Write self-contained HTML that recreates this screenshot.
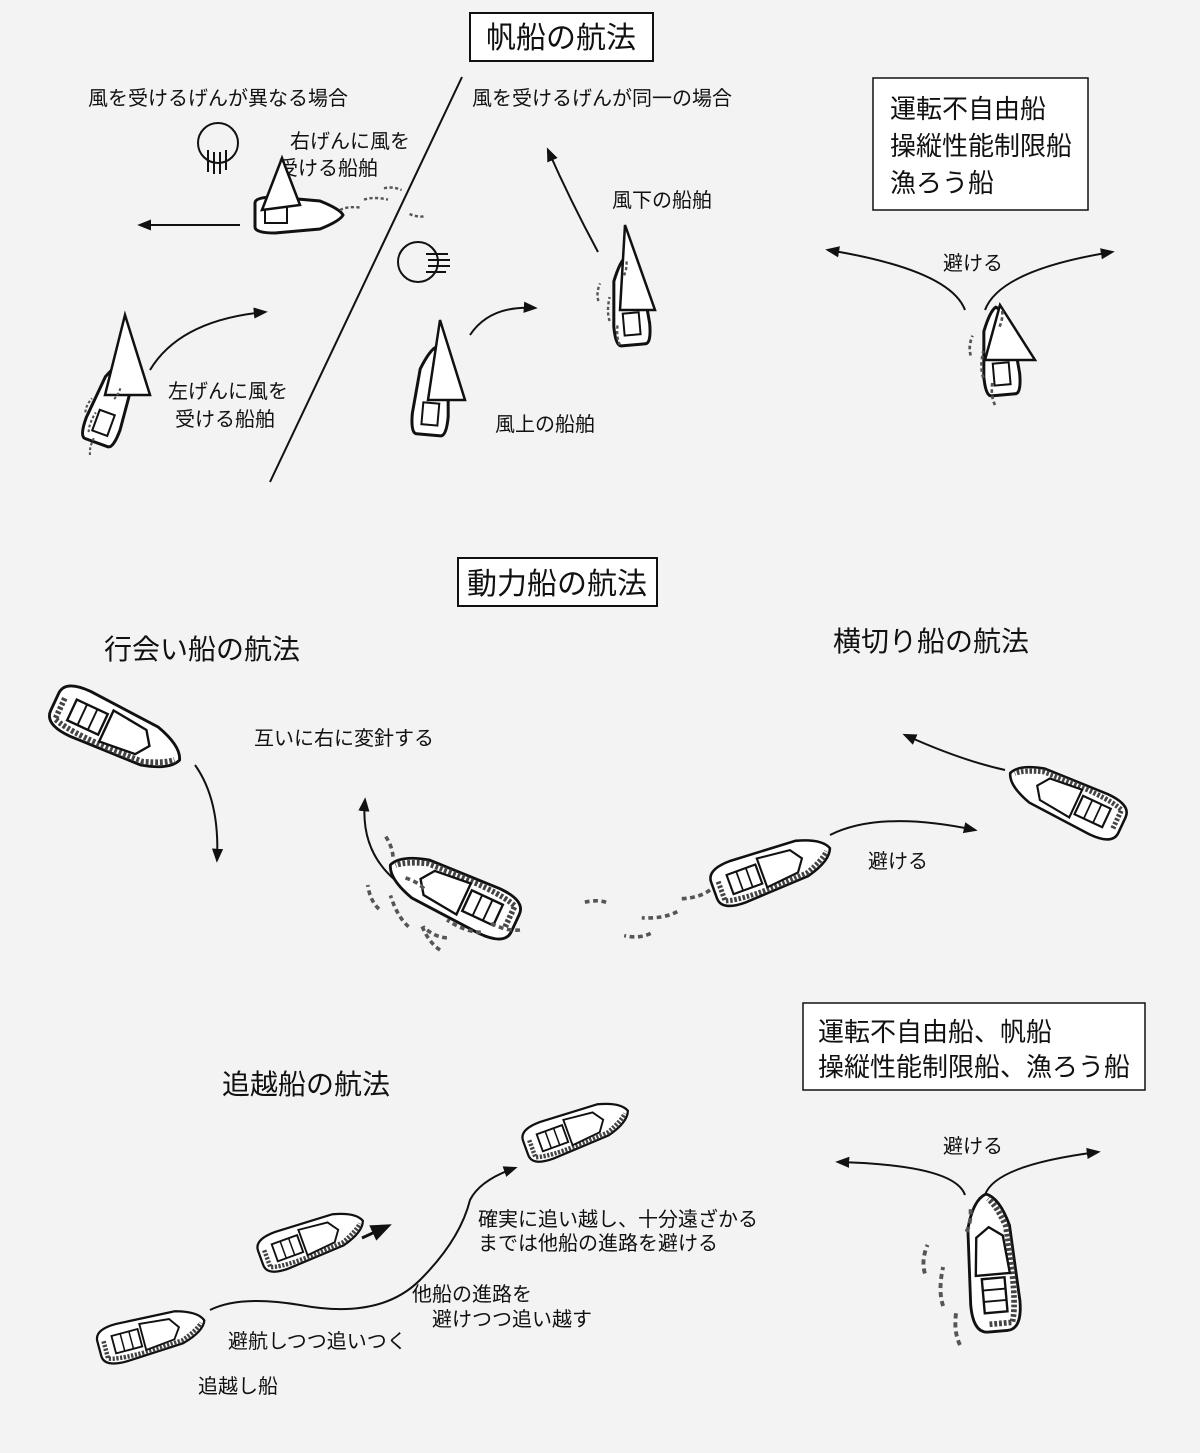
<!DOCTYPE html>
<html><head><meta charset="utf-8"><style>
html,body{margin:0;padding:0;background:#f3f3f3;}
svg{display:block}
text{font-family:"Liberation Sans","Noto Sans CJK JP",sans-serif;fill:#111}
</style></head><body>
<svg width="1200" height="1453" viewBox="0 0 1200 1453" xmlns="http://www.w3.org/2000/svg">
<defs>
<marker id="ah" viewBox="0 0 10 10" refX="8" refY="5" markerWidth="7" markerHeight="7" orient="auto-start-reverse"><path d="M0,1 L10,5 L0,9 Z" fill="#111"/></marker>
<g id="mb">
 <path d="M-70,-10 Q-70,-26 -40,-26 L40,-22 Q70,-14 75,0 Q70,14 40,22 L-40,26 Q-70,26 -70,10 Z" fill="#fff" stroke="#111" stroke-width="3"/>
 <path d="M-62,-8 L-62,16 Q-40,24 40,18 Q62,10 70,2" fill="none" stroke="#444" stroke-width="6" stroke-dasharray="3 2"/>
 <path d="M-10,-18 L30,-14 L40,0 L30,14 L-10,18 Z" fill="#fff" stroke="#111" stroke-width="2.5"/>
 <rect x="-50" y="-12" width="36" height="24" fill="#fff" stroke="#111" stroke-width="2.5"/>
 <line x1="-38" y1="-12" x2="-38" y2="12" stroke="#111" stroke-width="2"/>
 <line x1="-26" y1="-12" x2="-26" y2="12" stroke="#111" stroke-width="2"/>
</g>
<g id="sb">
 <path d="M-40,-12 Q-40,-18 -20,-18 L25,-14 Q45,-6 48,0 Q45,6 25,14 L-20,18 Q-40,18 -40,12 Z" fill="#fff" stroke="#111" stroke-width="3"/>
 <rect x="-30" y="-8" width="22" height="16" fill="#fff" stroke="#111" stroke-width="2"/>
</g>
<g id="wake">
 <path d="M0,0 q-10,5 -25,3 m-5,10 q-12,4 -30,0 m5,14 q-10,3 -22,-2 m-10,-30 q-8,-4 -20,-3" fill="none" stroke="#555" stroke-width="3" stroke-dasharray="4 3"/>
</g>
</defs>

<rect x="470" y="13" width="183" height="48" fill="#fff" stroke="#111" stroke-width="2"/>
<text x="561" y="48" font-size="30" text-anchor="middle">帆船の航法</text>
<text x="88" y="105" font-size="20">風を受けるげんが異なる場合</text>
<text x="472" y="105" font-size="20">風を受けるげんが同一の場合</text>
<line x1="462" y1="77" x2="270" y2="482" stroke="#111" stroke-width="2"/>
<rect x="873" y="78" width="215" height="132" fill="#fff" stroke="#111" stroke-width="1.5"/>
<text x="890" y="118" font-size="26">運転不自由船</text>
<text x="890" y="155" font-size="26">操縦性能制限船</text>
<text x="890" y="192" font-size="26">漁ろう船</text>

<circle cx="218" cy="143" r="20" fill="none" stroke="#111" stroke-width="2"/>
<path d="M208,150 v22 M214,152 v22 M220,152 v22 M226,150 v20" stroke="#111" stroke-width="2"/>
<circle cx="418" cy="262" r="20" fill="none" stroke="#111" stroke-width="2"/>
<path d="M426,254 h22 M428,260 h22 M428,266 h22 M426,272 h20" stroke="#111" stroke-width="2"/>

<text x="290" y="148" font-size="20">右げんに風を</text>
<text x="278" y="175" font-size="20">受ける船舶</text>
<use href="#sb" transform="translate(295,215)"/>
<path d="M262,210 L282,158 L300,205 Z" fill="#fff" stroke="#111" stroke-width="2.5"/>
<use href="#wake" transform="translate(340,210) rotate(180) scale(0.8)"/>
<line x1="240" y1="225" x2="140" y2="225" stroke="#111" stroke-width="2" marker-end="url(#ah)"/>

<text x="612" y="207" font-size="20">風下の船舶</text>
<path d="M598,252 Q570,200 548,150" fill="none" stroke="#111" stroke-width="2" marker-end="url(#ah)"/>
<use href="#sb" transform="translate(630,305) rotate(-95)"/>
<path d="M620,310 L625,225 L655,310 Z" fill="#fff" stroke="#111" stroke-width="2.5"/>
<use href="#wake" transform="translate(620,345) rotate(90) scale(0.8)"/>

<text x="943" y="270" font-size="20">避ける</text>
<path d="M965,310 Q950,270 828,250" fill="none" stroke="#111" stroke-width="2" marker-end="url(#ah)"/>
<path d="M985,310 Q1000,270 1112,252" fill="none" stroke="#111" stroke-width="2" marker-end="url(#ah)"/>
<use href="#sb" transform="translate(1000,355) rotate(-95)"/>
<path d="M985,360 L1000,305 L1035,360 Z" fill="#fff" stroke="#111" stroke-width="2.5"/>
<use href="#wake" transform="translate(995,405) rotate(90) scale(0.9)"/>

<text x="168" y="398" font-size="20">左げんに風を</text>
<text x="175" y="426" font-size="20">受ける船舶</text>
<use href="#sb" transform="translate(110,405) rotate(-70)"/>
<path d="M105,395 L125,315 L150,395 Z" fill="#fff" stroke="#111" stroke-width="2.5"/>
<path d="M150,370 Q180,320 265,312" fill="none" stroke="#111" stroke-width="2" marker-end="url(#ah)"/>
<use href="#wake" transform="translate(90,455) rotate(110) scale(0.7)"/>

<text x="495" y="431" font-size="20">風上の船舶</text>
<use href="#sb" transform="translate(432,395) rotate(-85)"/>
<path d="M428,400 L440,320 L465,400 Z" fill="#fff" stroke="#111" stroke-width="2.5"/>
<path d="M470,335 Q490,305 535,308" fill="none" stroke="#111" stroke-width="2" marker-end="url(#ah)"/>

<rect x="458" y="558" width="199" height="48" fill="#fff" stroke="#111" stroke-width="2"/>
<text x="557" y="594" font-size="30" text-anchor="middle">動力船の航法</text>
<text x="104" y="659" font-size="28">行会い船の航法</text>
<text x="833" y="651" font-size="28">横切り船の航法</text>
<text x="254" y="745" font-size="20">互いに右に変針する</text>

<use href="#mb" transform="translate(115,730) rotate(25) scale(0.95)"/>
<path d="M195,765 Q220,800 217,860" fill="none" stroke="#111" stroke-width="2" marker-end="url(#ah)"/>
<use href="#mb" transform="translate(455,895) rotate(205) scale(0.95)"/>
<path d="M395,880 Q360,850 365,800" fill="none" stroke="#111" stroke-width="2" marker-end="url(#ah)"/>
<use href="#wake" transform="translate(520,930) rotate(20) scale(1.2)"/>
<use href="#wake" transform="translate(440,950) rotate(60) scale(1.2)"/>

<use href="#mb" transform="translate(770,870) rotate(-20) scale(0.85)"/>
<use href="#wake" transform="translate(710,890) rotate(-10) scale(1.2)"/>
<path d="M830,835 Q880,810 975,830" fill="none" stroke="#111" stroke-width="2" marker-end="url(#ah)"/>
<text x="868" y="868" font-size="20">避ける</text>
<use href="#mb" transform="translate(1068,800) rotate(205) scale(0.85)"/>
<path d="M1005,770 Q960,760 905,735" fill="none" stroke="#111" stroke-width="2" marker-end="url(#ah)"/>

<rect x="803" y="1003" width="342" height="87" fill="#fff" stroke="#111" stroke-width="1.5"/>
<text x="818" y="1041" font-size="26">運転不自由船、帆船</text>
<text x="818" y="1076" font-size="26">操縦性能制限船、漁ろう船</text>
<text x="222" y="1094" font-size="28">追越船の航法</text>
<text x="943" y="1153" font-size="20">避ける</text>
<path d="M965,1195 Q955,1165 838,1162" fill="none" stroke="#111" stroke-width="2" marker-end="url(#ah)"/>
<path d="M985,1195 Q995,1165 1098,1152" fill="none" stroke="#111" stroke-width="2" marker-end="url(#ah)"/>
<use href="#mb" transform="translate(992,1265) rotate(-95) scale(0.95)"/>
<use href="#wake" transform="translate(960,1345) rotate(90) scale(1.3)"/>

<use href="#mb" transform="translate(575,1130) rotate(-20) scale(0.75)"/>
<use href="#mb" transform="translate(310,1240) rotate(-20) scale(0.75)"/>
<line x1="362" y1="1238" x2="388" y2="1226" stroke="#111" stroke-width="3" marker-end="url(#ah)"/>
<use href="#mb" transform="translate(150,1335) rotate(-15) scale(0.75)"/>
<path d="M210,1310 Q240,1295 300,1305 Q380,1320 420,1280 Q460,1240 470,1200 Q480,1180 515,1168" fill="none" stroke="#111" stroke-width="2" marker-end="url(#ah)"/>
<text x="478" y="1226" font-size="20">確実に追い越し、十分遠ざかる</text>
<text x="478" y="1250" font-size="20">までは他船の進路を避ける</text>
<text x="412" y="1301" font-size="20">他船の進路を</text>
<text x="432" y="1326" font-size="20">避けつつ追い越す</text>
<text x="228" y="1348" font-size="20">避航しつつ追いつく</text>
<text x="198" y="1393" font-size="20">追越し船</text>
</svg>
</body></html>
